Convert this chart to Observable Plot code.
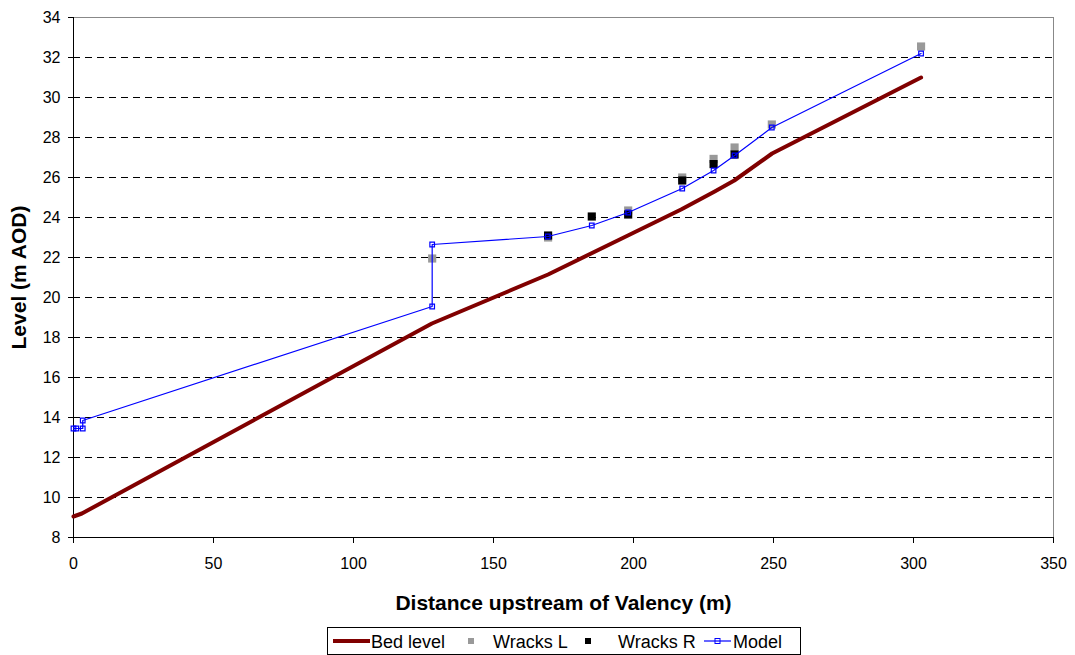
<!DOCTYPE html>
<html><head><meta charset="utf-8">
<script src="https://cdn.jsdelivr.net/npm/d3@7"></script>
<script src="https://cdn.jsdelivr.net/npm/@observablehq/plot@0.6"></script>
<style>
body{margin:0;background:#fff;font-family:"Liberation Sans",Arial,sans-serif;}
#wrap{position:relative;width:1075px;height:655px;}
g[aria-label="y-axis tick label"] text, g[aria-label="x-axis tick label"] text{font-size:16px;fill:#000;}
g[aria-label="y-axis label"] text, g[aria-label="x-axis label"] text{font-weight:bold;font-size:21px;fill:#000;}
#legend{position:absolute;left:327px;top:627px;}
</style>
</head><body><div id="wrap"><div id="chart"></div><div id="legend"></div></div>
<script>
// Bed level
const bedDist  = [0, 3, 128, 169.5, 198, 217, 229, 236, 249.5, 302.7];
const bedLevel = [9.05, 9.2, 18.7, 21.15, 23.1, 24.4, 25.3, 25.85, 27.2, 31.0];
// Wracks L (left bank)
const wlDist  = [128.1, 169.5, 198.1, 217.4, 228.6, 236.1, 249.4, 302.7];
const wlLevel = [21.95, 23.0, 24.35, 26.0, 26.93, 27.5, 28.65, 32.55];
// Wracks R (right bank)
const wrDist  = [169.5, 185.1, 198.1, 217.4, 228.6, 236.1];
const wrLevel = [23.1, 24.05, 24.15, 25.85, 26.67, 27.15];
// Model
const mDist  = [0, 1, 3.3, 3.3, 128.1, 128.1, 169.4, 185.1, 198.1, 217.4, 228.6, 236.1, 249.4, 302.7];
const mLevel = [13.45, 13.45, 13.45, 13.85, 19.55, 22.65, 23.05, 23.6, 24.25, 25.45, 26.35, 27.1, 28.5, 32.2];
// Ticks
const xTicks = [0, 50, 100, 150, 200, 250, 300, 350];
const yTicks = [8, 10, 12, 14, 16, 18, 20, 22, 24, 26, 28, 30, 32, 34];
const gridY  = [10, 12, 14, 16, 18, 20, 22, 24, 26, 28, 30, 32];

const zip = (xs, ys) => xs.map((x, i) => ({x, y: ys[i]}));
const bed = zip(bedDist, bedLevel), wl = zip(wlDist, wlLevel), wr = zip(wrDist, wrLevel), model = zip(mDist, mLevel);

const chart = Plot.plot({
  width: 1075, height: 620,
  marginLeft: 73, marginRight: 22, marginTop: 17, marginBottom: 83,
  style: {fontFamily: '"Liberation Sans", Arial, sans-serif', fontSize: "16px", color: "#000", background: "#fff"},
  x: {domain: [0, 350]},
  y: {domain: [8, 34]},
  marks: [
    Plot.ruleY(gridY, {stroke: "#000", strokeWidth: 1, strokeDasharray: "7,5"}),
    Plot.frame({stroke: "#888"}),
    Plot.axisX({ticks: xTicks, tickSize: 6, tickPadding: 14, fontSize: 16, label: "Distance upstream of Valency (m)", labelAnchor: "center", labelArrow: "none", labelOffset: 72}),
    Plot.axisY({ticks: yTicks, tickSize: 5, tickPadding: 8, fontSize: 16, label: "Level (m AOD)", labelAnchor: "center", labelArrow: "none", labelOffset: 62}),
    Plot.ruleX([0], {stroke: "#000"}),
    Plot.ruleY([8], {stroke: "#000"}),
    Plot.line(bed, {x: "x", y: "y", stroke: "#800000", strokeWidth: 4, curve: "linear"}),
    Plot.dot(wl, {x: "x", y: "y", symbol: "square", r: 4.6, fill: "#999999", stroke: "none"}),
    Plot.dot(wr, {x: "x", y: "y", symbol: "square", r: 4.6, fill: "#000000", stroke: "none"}),
    Plot.line(model, {x: "x", y: "y", stroke: "#0000ff", strokeWidth: 1.2}),
    Plot.dot(model, {x: "x", y: "y", symbol: "square", r: 2.6, fill: "none", stroke: "#0000ff", strokeWidth: 1.2})
  ]
});
document.getElementById("chart").append(chart);

// Legend
const lg = d3.select("#legend").append("svg").attr("width", 474).attr("height", 28)
  .style("font-family", '"Liberation Sans", Arial, sans-serif').style("font-size", "18px");
lg.append("rect").attr("x", 0.5).attr("y", 0.5).attr("width", 473).attr("height", 27).attr("fill", "#fff").attr("stroke", "#000");
lg.append("line").attr("x1", 6).attr("x2", 43).attr("y1", 14).attr("y2", 14).attr("stroke", "#800000").attr("stroke-width", 4);
lg.append("text").attr("x", 44).attr("y", 20.5).text("Bed level");
lg.append("rect").attr("x", 141).attr("y", 11).attr("width", 6).attr("height", 6).attr("fill", "#999999");
lg.append("text").attr("x", 166).attr("y", 20.5).text("Wracks L");
lg.append("rect").attr("x", 258).attr("y", 11).attr("width", 6).attr("height", 6).attr("fill", "#000");
lg.append("text").attr("x", 291).attr("y", 20.5).text("Wracks R");
lg.append("line").attr("x1", 377).attr("x2", 404).attr("y1", 14).attr("y2", 14).attr("stroke", "#0000ff").attr("stroke-width", 1.2);
lg.append("rect").attr("x", 388).attr("y", 11.5).attr("width", 5).attr("height", 5).attr("fill", "none").attr("stroke", "#0000ff");
lg.append("text").attr("x", 406).attr("y", 20.5).text("Model");
</script></body></html>
